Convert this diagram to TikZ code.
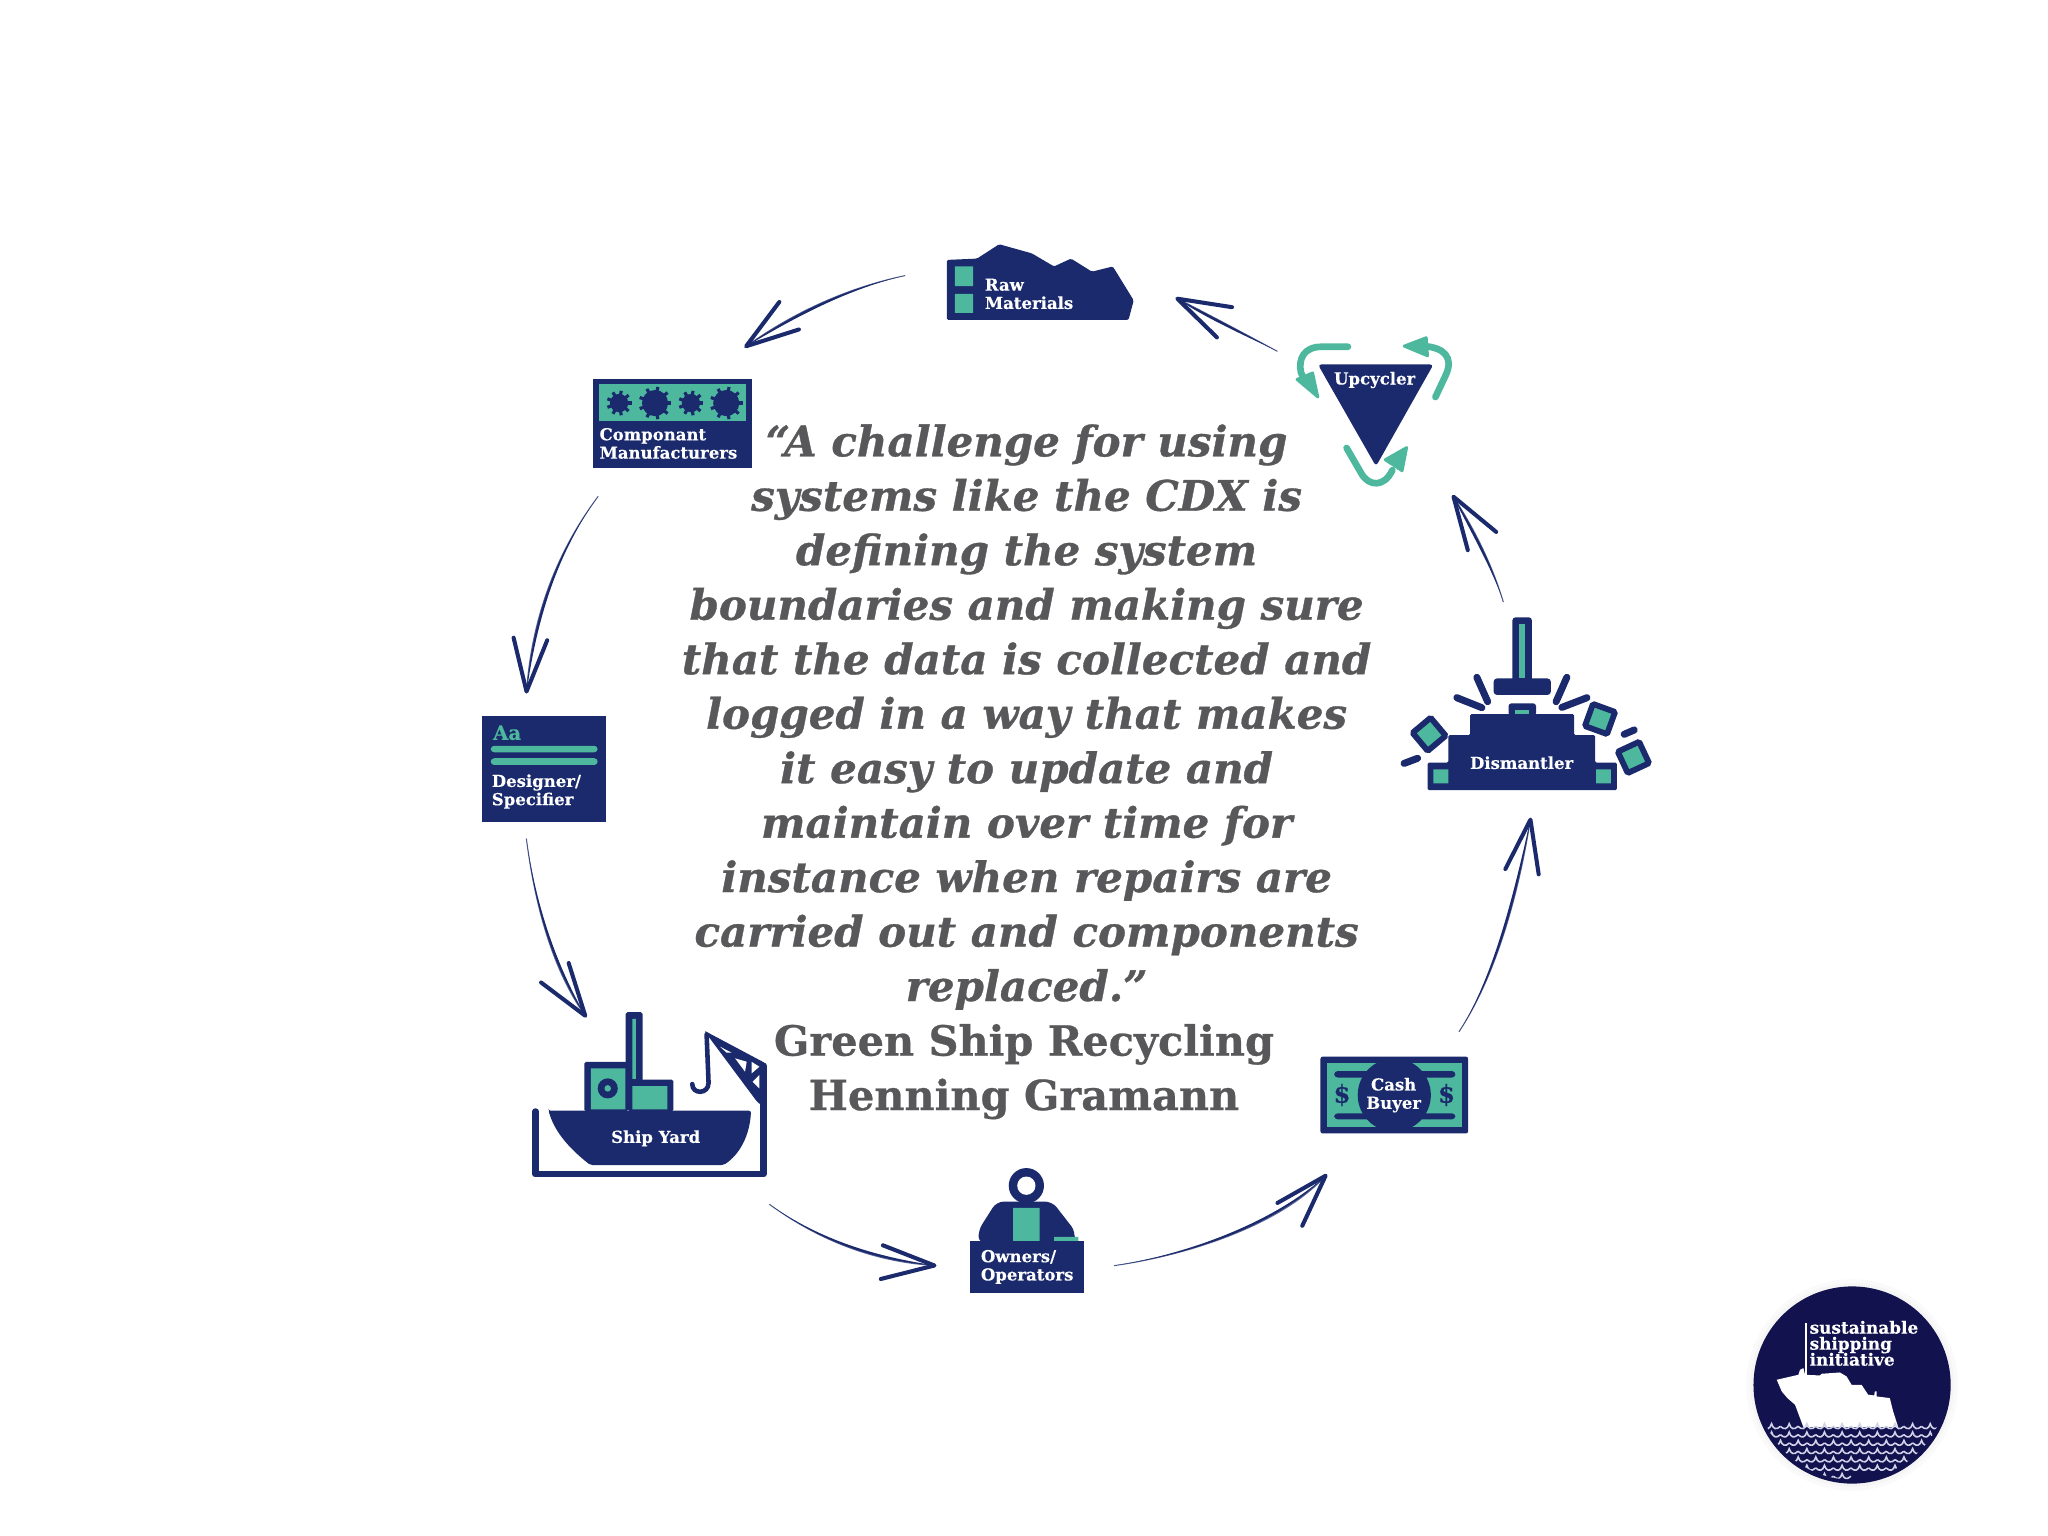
\documentclass[tikz,border=0pt]{standalone}
\usepackage{fontspec}
\usetikzlibrary{arrows.meta,calc}
\newfontfamily\slab[BoldFeatures={FakeBold=0.25}]{DejaVu Serif}
\newfontfamily\qfont[BoldItalicFeatures={FakeBold=0.8},BoldFeatures={FakeBold=0.6}]{DejaVu Serif}
\lineskiplimit=-20pt
\definecolor{navy}{HTML}{1A2A6C}
\definecolor{teal2}{HTML}{4DB89E}
\definecolor{quote}{HTML}{58585A}
\definecolor{logoblue}{HTML}{12124F}
\definecolor{wave}{HTML}{D2D2E8}
\newcommand{\flowarrow}[4]{%
  \draw[flowline] (#1) .. controls #2 and #3 .. (#4);
  \fill[navy] (#1) .. controls #2 and #3 .. (#4)
     .. controls ($#3!1.4pt!90:(#4)$) and ($#2!.4pt!90:(#4)$) .. (#1);}
\newcommand{\gearicon}[3]{%
  \fill[navy] (#1,#2) circle (#3);
  \foreach \a in {0,40,...,320} \draw[navy,line width=.9pt] (#1,#2) -- +(\a:#3+2.5);}
\tikzset{
  flowline/.style={navy!70,line width=.3pt,-{Straight Barb[length=15pt,width=9.6pt,line width=1.15pt,round,color=navy]}},
  lab/.style={text=white,align=left,inner sep=0pt,anchor=west,font=\slab\bfseries\fontsize{4.7}{5.2}\selectfont},
  clab/.style={lab,anchor=center,align=center},
  navyfill/.style={fill=navy,rounded corners=.4pt},
  cycleline/.style={teal2,line width=1.9pt,line cap=round},
  cyclehead/.style={fill=teal2,draw=teal2,line width=.8pt,line join=round},
  dash stroke/.style={navy,line width=2pt,line cap=round},
  frag/.style={draw=navy,fill=teal2,line width=1.65pt,minimum size=6.7pt,inner sep=0pt,rounded corners=.4pt},
  zoomed/.style={x=0.003333cm,y=-0.003333cm}
}
\begin{document}
\begin{tikzpicture}[x=0.013061cm,y=-0.013061cm]
\useasboundingbox (0,0) rectangle (1568,1176);
\fill[white] (0,0) rectangle (1568,1176);

% Raw materials
\fill[navyfill] (725,199) -- (748,198) -- (765,187) -- (790,194) -- (807,204) -- (820,198) -- (836,208) -- (852,204) -- (868,230) -- (864,245) -- (725,245) -- cycle;
\fill[teal2] (731,204) rectangle (745,219) (731,225) rectangle (745,239.5);
\node[lab] (raw) at (753.5,225) {Raw\\Materials};

% Upcycler
\fill[navy,rounded corners=1pt] (1009,279) -- (1097.5,279) -- (1053.5,357) -- cycle;
\node[clab] (up) at (1052.5,291) {Upcycler};
\draw[cycleline] (1032,265.5) -- (1012,265.5) .. controls (998,265.5) and (994,275) .. (996,285) -- (999,292);
\path[cyclehead] (993,290.5) -- (1005,285.5) -- (1009,304) -- cycle;
\draw[cycleline] (1099,304) -- (1107,287) .. controls (1113,274) and (1106,266) .. (1090,265);
\path[cyclehead] (1075,265) -- (1092,258.5) -- (1093,272.5) -- cycle;
\draw[cycleline] (1031,343) -- (1042,362) .. controls (1048,373) and (1060,373) .. (1066,360);
\path[cyclehead] (1077,342.6) -- (1060.5,352) -- (1073.5,360.5) -- cycle;

% Component manufacturers
\fill[navy] (454,290) rectangle (576,358);
\fill[teal2] (458.7,294) rectangle (571,322.5);
\gearicon{474}{308.6}{7}
\gearicon{501.5}{308.6}{10}
\gearicon{529}{308.6}{7}
\gearicon{556}{308.6}{10}
\node[lab] (comp) at (458.5,339.5) {Componant\\Manufacturers};

% Designer
\fill[navy] (369,548) rectangle (464,629);
\fill[teal2,rounded corners=1pt] (375.7,571) rectangle (457.6,576) (375.7,580.5) rectangle (457.6,585.7);
\node[lab,text=teal2,font=\slab\bfseries\fontsize{5.6}{6}\selectfont] (aa) at (377,561) {Aa};
\node[lab] (des) at (376,606) {Designer/\\Specifier};

% Ship yard
\draw[navy,line width=1.85pt,line cap=round,line join=round] (410,851) -- (410,899) -- (584.5,899) -- (584.5,816);
\fill[navy,rounded corners=.5pt] (539,789) -- (586,814) -- (586,848) -- (580,844) -- cycle;
\fill[white] (551.3,801.4) -- (560.2,806) -- (556.4,806) -- cycle
  (562.8,810.3) -- (571.7,812.9) -- (570.4,820.5) -- cycle
  (575.5,813) -- (581.4,816.7) -- (575.5,821.8) -- cycle
  (581.4,823) -- (581.4,833.3) -- (576.3,828.2) -- cycle;
\draw[navy,line width=1.3pt,line cap=round] (541,792) -- (542.5,829) .. controls (542.5,838) and (530,838) .. (530,830);
\fill[navy,rounded corners=.5pt] (447.4,813) rectangle (481,851);
\fill[navy,rounded corners=.5pt] (479,775) rectangle (492,828);
\fill[navy,rounded corners=.5pt] (481,826.5) rectangle (515.6,851);
\fill[teal2] (452.3,818) rectangle (478.8,849.4) (484.2,780) rectangle (486.8,826) (484.2,831.6) rectangle (511,849.4);
\fill[navy] (465.3,833.3) circle (7.7);
\fill[teal2] (465.3,833.3) circle (2.5);
\fill[navy,rounded corners=.6pt] (420,850.4) -- (575,850.4) .. controls (574,870) and (566,884) .. (554,892) -- (452,892) .. controls (438,881) and (425,868) .. (420,850.4) -- cycle;
\node[clab] (yard) at (502,871.5) {Ship Yard};

% Owners
\fill[navy] (785.8,907.8) circle (13.5);
\fill[white] (785.8,907.8) circle (7);
\fill[navy,rounded corners=2pt] (763,920) -- (805.6,920) -- (823.5,943) -- (822,952) -- (749.4,952) -- (749,942) -- cycle;
\fill[teal2] (775.7,924.7) rectangle (796,950) (807,946.9) rectangle (825.6,950);
\fill[navy] (742.5,950) rectangle (830.3,990);
\node[lab] (own) at (750.5,970) {Owners/\\Operators};

% Cash buyer
\fill[navy,rounded corners=.6pt] (1011,809) rectangle (1124,867.8);
\fill[teal2] (1016,813.7) rectangle (1119.5,863);
\fill[navy,rounded corners=1pt] (1021.5,820) rectangle (1114.3,825) (1021.5,852.4) rectangle (1114.3,857);
\begin{scope}
\clip (1011,809) rectangle (1124,867.8);
\fill[navy] (1067.5,838.4) circle (28);
\end{scope}
\node[clab,text=navy,font=\slab\bfseries\fontsize{7}{7}\selectfont] (d1) at (1027.5,838.4) {\$};
\node[clab,text=navy,font=\slab\bfseries\fontsize{7}{7}\selectfont] (d2) at (1107.5,838.4) {\$};
\node[clab] (cash) at (1067,838.5) {Cash\\Buyer};

% Dismantler
\fill[navy,rounded corners=.8pt] (1158,472.7) rectangle (1172.8,522);
\fill[teal2] (1163,477.8) rectangle (1167.7,519.4);
\fill[navy,rounded corners=1pt] (1143.5,519.4) rectangle (1187.4,532.1);
\fill[navy,rounded corners=.8pt] (1155,538.5) rectangle (1176,548);
\fill[teal2] (1160,543.6) rectangle (1171,546.7);
\fill[navyfill] (1125.6,546.7) -- (1205.2,546.7) -- (1205.2,562.8) -- (1221.3,562.8) -- (1221.3,583.9) -- (1237.9,583.9) -- (1237.9,604.9) -- (1093,604.9) -- (1093,583.9) -- (1109,583.9) -- (1109,562.8) -- (1125.6,562.8) -- cycle;
\fill[teal2] (1097.5,589) rectangle (1109,599.8) (1222,589) rectangle (1233.3,599.8);
\draw[dash stroke] (1130.7,518.6) -- (1139,537.2);
\draw[dash stroke] (1115.4,534.2) -- (1134.5,541.8);
\draw[dash stroke] (1199.6,518.6) -- (1191.4,537.2);
\draw[dash stroke] (1215,534.2) -- (1195.8,541.6);
\draw[dash stroke] (1243.5,562.2) -- (1251.2,558.9);
\draw[dash stroke] (1075,584.5) -- (1085.3,580.6);
\node[frag,rotate=40] (f1) at (1094.2,562.2) {};
\node[frag,rotate=-20] (f2) at (1225,550.5) {};
\node[frag,rotate=25] (f3) at (1250.6,579.9) {};
\node[clab] (dis) at (1165,584) {Dismantler};

% Connector ends
\coordinate (upOut) at (978,269);     \coordinate (rawIn) at (900,228);
\coordinate (rawOut) at (693,211);    \coordinate (compIn) at (570,266);
\coordinate (compOut) at (458,380);   \coordinate (desIn) at (403,531);
\coordinate (desOut) at (403,642);    \coordinate (yardIn) at (449,779);
\coordinate (yardOut) at (589,922);   \coordinate (ownIn) at (717,969);
\coordinate (ownOut) at (853,969);    \coordinate (cashIn) at (1016,899);
\coordinate (cashOut) at (1117,790);  \coordinate (disIn) at (1172,626);
\coordinate (disOut) at (1151,461);   \coordinate (upIn) at (1112,379);
\flowarrow{upOut}{(952,255)}{(926,241)}{rawIn}
\flowarrow{rawOut}{(650,220)}{(609,238.3)}{compIn}
\flowarrow{compOut}{(425.7,423)}{(407.3,473)}{desIn}
\flowarrow{desOut}{(410.3,700.3)}{(425.7,746)}{yardIn}
\flowarrow{yardOut}{(627.7,950.3)}{(670,966)}{ownIn}
\flowarrow{ownOut}{(914.7,960.3)}{(981.8,936)}{cashIn}
\flowarrow{cashOut}{(1142.7,751.3)}{(1161,694)}{disIn}
\flowarrow{disOut}{(1143,434)}{(1130,407)}{upIn}

% Quote
\node[text=quote,align=center,inner sep=0pt,font=\qfont\bfseries\itshape\fontsize{11.95}{15.5}\selectfont] (quotebody) at (786,549)
 {“A challenge for using\\systems like the CDX is\\defining the system\\boundaries and making sure\\that the data is collected and\\logged in a way that makes\\it easy to update and\\maintain over time for\\instance when repairs are\\carried out and components\\replaced.”};
\node[text=quote,align=center,inner sep=0pt,font=\qfont\bfseries\fontsize{11.8}{15.5}\selectfont] (attrib) at (784,820.5)
 {Green Ship Recycling\\Henning Gramann};

% Logo
\fill[black!2] (1418,1060.4) circle (81);
\fill[black!4] (1418,1060.4) circle (78);
\fill[logoblue] (1418,1060.4) circle (75.5);
\begin{scope}[shift={(1332.3,980)},zoomed]
\fill[white] (110,300) -- (175,285) -- (180,270) -- (190,265) -- (195,285) -- (240,287) -- (245,282) -- (300,278) -- (320,290) -- (335,315) -- (365,315) -- (385,345) -- (403,347) -- (405,335) -- (410,335) -- (410,350) -- (450,355) -- (460,395) -- (475,442) -- (190,442) -- (165,375) -- (142,355) -- (125,335) -- cycle;
\draw[white,line width=.3pt] (198,130) -- (198,285);
\begin{scope}
\clip (336,315) circle (285);
\foreach \row/\first/\cnt in {432/68/10,457/68/10,482/95/9,507/121/8,532/148/7,557/174/6}{
  \foreach \k in {1,...,\cnt}{
    \pgfmathsetmacro{\xs}{\first+(\k-1)*53}
    \draw[wave,line width=.45pt] (\xs,\row+8) .. controls (\xs+12,\row+20) and (\xs+22,\row+16) .. (\xs+26.5,\row) .. controls (\xs+31,\row+16) and (\xs+41,\row+20) .. (\xs+53,\row+8);
  }
}
\foreach \k in {1,2}{
  \pgfmathsetmacro{\xs}{227+(\k-1)*53}
  \draw[wave,line width=.45pt] (\xs,590) .. controls (\xs+12,602) and (\xs+22,598) .. (\xs+26.5,582) .. controls (\xs+31,598) and (\xs+41,602) .. (\xs+53,590);
}
\end{scope}
\end{scope}
\node[lab,font=\slab\bfseries\fontsize{4.8}{4.55}\selectfont] (logo) at (1385,1028.5) {sustainable\\shipping\\initiative};
\end{tikzpicture}
\end{document}
